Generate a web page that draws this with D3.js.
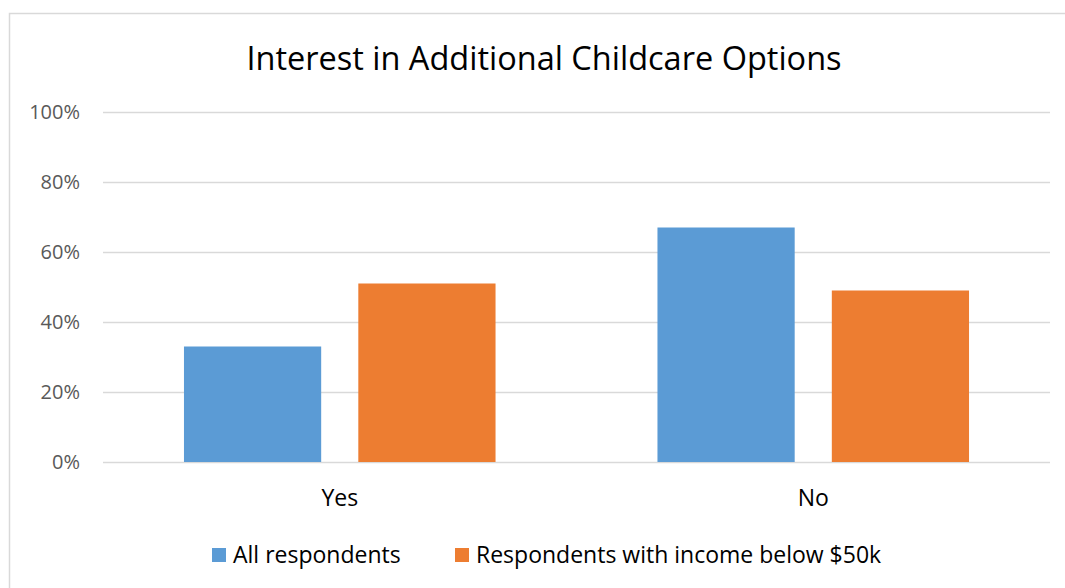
<!DOCTYPE html>
<html lang="en">
<head>
  <meta charset="UTF-8">
  <title>Interest in Additional Childcare Options</title>
  <script src="https://d3js.org/d3.v7.min.js"></script>
  <style>
    * { margin: 0; padding: 0; box-sizing: border-box; }
    body { background: #fff; font-family: "Open Sans", sans-serif; }
  </style>
</head>
<body>
  <div id="chart"></div>
  <script>
    const categories = ["Yes", "No"];
    const seriesNames = ["All respondents", "Respondents with income below $50k"];
    const allRespondents = [0.33, 0.67];
    const lowIncome = [0.51, 0.49];
    const yTicks = [0, 0.2, 0.4, 0.6, 0.8, 1.0];
    const colors = ["#5b9bd5", "#ed7d31"];

    const FONT = "'Open Sans', sans-serif";
    const W = 1065, H = 588;
    const margin = {top: 112, right: 15, bottom: 126, left: 103};
    const width = W - margin.left - margin.right,
          height = H - margin.top - margin.bottom;

    const svg = d3.select("#chart")
                  .append("svg")
                  .attr("width", W)
                  .attr("height", H);

    // chart frame
    svg.append("rect")
       .attr("x", 9.5).attr("y", 13.5)
       .attr("width", W + 20).attr("height", H + 20)
       .attr("fill", "white")
       .attr("stroke", "#d9d9d9")
       .attr("stroke-width", 1.5);

    const g = svg.append("g")
                 .attr("transform", `translate(${margin.left},${margin.top})`);

    const data = categories.map((c, i) => ({
      cat: c,
      values: [allRespondents[i], lowIncome[i]]
    }));

    const x0 = d3.scaleBand()
                 .domain(categories)
                 .range([0, width])
                 .padding(0);

    const groupPad = x0.bandwidth() * 0.171;
    const x1 = d3.scaleBand()
                 .domain(seriesNames)
                 .range([groupPad, x0.bandwidth() - groupPad])
                 .paddingInner(0.213)
                 .paddingOuter(0);

    const y = d3.scaleLinear()
                .domain([0, 1])
                .range([height, 0]);

    // gridlines
    g.append("g")
     .call(d3.axisLeft(y).tickValues(yTicks).tickSize(-width).tickFormat(""))
     .call(a => a.select(".domain").remove())
     .selectAll("line")
     .attr("stroke", "#d9d9d9")
     .attr("stroke-width", 1.5);

    // y labels
    g.append("g")
     .call(d3.axisLeft(y).tickValues(yTicks).tickSize(0).tickPadding(23)
             .tickFormat(d3.format(".0%")))
     .call(a => a.select(".domain").remove())
     .selectAll("text")
     .style("font-family", FONT)
     .style("font-size", "20px")
     .attr("fill", "#595959");

    // bars
    g.selectAll(".grp")
     .data(data)
     .enter()
     .append("g")
     .attr("transform", d => `translate(${x0(d.cat)},0)`)
     .selectAll("rect")
     .data(d => d.values.map((v, i) => ({name: seriesNames[i], v, i})))
     .enter()
     .append("rect")
     .attr("x", d => x1(d.name))
     .attr("y", d => y(d.v))
     .attr("width", x1.bandwidth())
     .attr("height", d => height - y(d.v))
     .attr("fill", d => colors[d.i]);

    // x labels
    g.append("g")
     .attr("transform", `translate(0,${height})`)
     .call(d3.axisBottom(x0).tickSize(0).tickPadding(28))
     .call(a => a.select(".domain").remove())
     .selectAll("text")
     .style("font-family", FONT)
     .style("font-size", "23px")
     .attr("fill", "#000");

    // title
    svg.append("text")
       .attr("x", 544)
       .attr("y", 70)
       .attr("text-anchor", "middle")
       .style("font-family", FONT)
       .style("font-size", "32.5px")
       .attr("fill", "#000")
       .text("Interest in Additional Childcare Options");

    // legend
    const legendX = [212, 455];
    const legend = svg.append("g").attr("transform", "translate(0,548)");
    seriesNames.forEach((s, i) => {
      const row = legend.append("g").attr("transform", `translate(${legendX[i]},0)`);
      row.append("rect")
         .attr("width", 14).attr("height", 14)
         .attr("fill", colors[i]);
      row.append("text")
         .attr("x", 21).attr("y", 15)
         .style("font-family", FONT)
         .style("font-size", "23px")
         .attr("fill", "#000")
         .text(s);
    });
  </script>
</body>
</html>
